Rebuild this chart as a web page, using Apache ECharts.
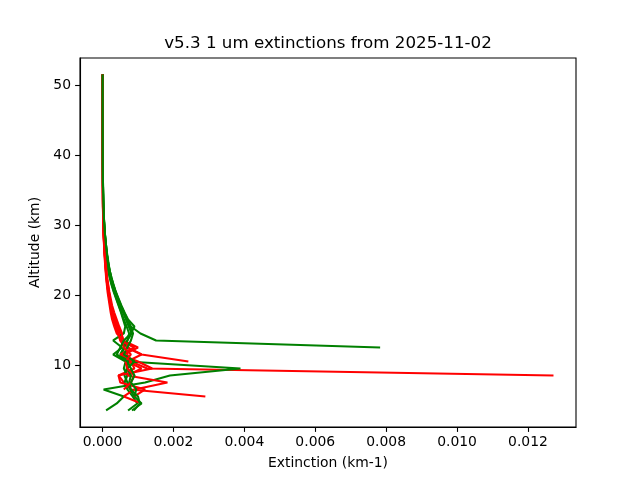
<!DOCTYPE html>
<html>
<head>
<meta charset="utf-8">
<script src="https://cdn.jsdelivr.net/npm/echarts@6/dist/echarts.min.js"></script>
<style>html,body{margin:0;padding:0;background:#fff}#c{width:640px;height:480px}</style>
</head>
<body>
<div id="c"></div>
<script>
const altitudes = [3.5,4.5,5.5,6.5,7.5,8.5,9.5,10.5,11.5,12.5,13.5,14.5,15.5,16.5,17.5,18.5,19.5,20.5,21.5,22.5,23.5,24.5,25.5,26.5,27.5,28.5,29.5,30.5,31.5,32.5,33.5,34.5,35.5,36.5,37.5,38.5,39.5,40.5,41.5,42.5,43.5,44.5,45.5,46.5,47.5,48.5,49.5,50.5,51.5];
const xTicks = [0,0.002,0.004,0.006,0.008,0.010,0.012];
const yTicks = [10,20,30,40,50];

const red1 = [null,null,null,null,null,0.01272,0.00126,0.00080,0.00070,0.00062,0.00050,0.00044,0.00037,0.00031,0.00026,0.00022,0.00019,0.00016,0.00013,0.00011,0.000095,0.00008,0.000066,0.000052,0.000042,0.000032,0.000024,0.000019,0.000015,0.000012,0.00001,0.000009,0.000008,0.000008,0.000007,0.000007,0.000006,0.000006,0.000005,0.000005,0.000005,0.000004,0.000004,0.000004,0.000004,0.000003,0.000003,0.000003,0.000003];
const red2 = [null,null,null,null,null,null,null,0.00242,0.00110,0.00070,0.00060,0.00052,0.00043,0.00036,0.00030,0.00025,0.00021,0.00018,0.00015,0.00012,0.0001,0.000085,0.00007,0.000056,0.000045,0.000035,0.000027,0.00002,0.000016,0.000013,0.000011,0.00001,0.000009,0.000008,0.000008,0.000007,0.000007,0.000006,0.000006,0.000005,0.000005,0.000005,0.000004,0.000004,0.000004,0.000004,0.000003,0.000003,0.000003];
const red3 = [null,null,0.00290,0.00080,0.00060,0.00045,0.00090,0.00080,0.00060,0.00100,0.00058,0.00050,0.00042,0.00035,0.00029,0.00024,0.00020,0.00017,0.00014,0.00012,0.0001,0.000082,0.000068,0.000054,0.000044,0.000034,0.000026,0.00002,0.000016,0.000013,0.000011,0.00001,0.000009,0.000008,0.000008,0.000007,0.000007,0.000006,0.000006,0.000005,0.000005,0.000005,0.000004,0.000004,0.000004,0.000004,0.000003,0.000003,0.000003];
const red4 = [null,0.00110,0.00060,0.00090,0.00183,0.00070,0.00110,0.00070,0.00110,0.00070,0.00060,0.00040,0.00033,0.00027,0.00023,0.00020,0.00017,0.00014,0.00012,0.0001,0.000085,0.00007,0.000058,0.000047,0.000038,0.00003,0.000023,0.000018,0.000014,0.000012,0.00001,0.000009,0.000008,0.000008,0.000007,0.000007,0.000006,0.000006,0.000005,0.000005,0.000005,0.000004,0.000004,0.000004,0.000004,0.000003,0.000003,0.000003,0.000003];
const red5 = [null,null,0.00090,0.00120,0.00050,0.00045,0.00140,0.00100,0.00050,0.00090,0.00050,0.00045,0.00038,0.00032,0.00027,0.00023,0.00019,0.00016,0.00013,0.00011,0.00009,0.000075,0.000062,0.00005,0.00004,0.000031,0.000024,0.000018,0.000015,0.000012,0.00001,0.000009,0.000008,0.000008,0.000007,0.000007,0.000006,0.000006,0.000005,0.000005,0.000005,0.000004,0.000004,0.000004,0.000004,0.000003,0.000003,0.000003,0.000003];
const red6 = [null,null,null,0.00060,0.00080,0.00090,0.00070,0.00065,0.00080,0.00060,0.00055,0.00055,0.00047,0.0004,0.00033,0.00027,0.00023,0.00019,0.00016,0.00013,0.00011,0.00009,0.000074,0.00006,0.000048,0.000037,0.000028,0.000021,0.000017,0.000014,0.000012,0.00001,0.000009,0.000008,0.000008,0.000007,0.000007,0.000006,0.000006,0.000005,0.000005,0.000005,0.000004,0.000004,0.000004,0.000004,0.000003,0.000003,0.000003];

const green1 = [null,null,null,null,null,null,null,null,null,0.00783,0.00151,0.00107,0.00080,0.00070,0.00060,0.00050,0.00042,0.00035,0.00029,0.00023,0.00019,0.00016,0.00013,0.00011,0.00009,0.00007,0.000055,0.000043,0.000033,0.000026,0.00002,0.000016,0.000013,0.000011,0.00001,0.000009,0.000008,0.000008,0.000007,0.000007,0.000006,0.000006,0.000005,0.000005,0.000005,0.000004,0.000004,0.000004,0.000004];
const green2 = [0.00010,0.00040,0.00060,0.00003,0.00120,0.00190,0.00389,0.00070,0.00050,0.00060,0.00070,0.00075,0.00068,0.0006,0.00053,0.00046,0.00039,0.00032,0.00026,0.00021,0.00017,0.00014,0.00012,0.0001,0.00008,0.000063,0.00005,0.00004,0.00003,0.000024,0.000019,0.000015,0.000012,0.00001,0.000009,0.000008,0.000008,0.000007,0.000007,0.000006,0.000006,0.000005,0.000005,0.000005,0.000004,0.000004,0.000004,0.000004,0.000003];
const green3 = [0.00072,0.00098,0.00085,0.00070,0.00062,0.00070,0.00060,0.00065,0.00030,0.00055,0.00030,0.00060,0.00064,0.00058,0.00052,0.00045,0.00038,0.00031,0.00025,0.0002,0.00016,0.00013,0.00011,0.00009,0.000075,0.00006,0.000047,0.000037,0.000028,0.000022,0.000017,0.000014,0.000011,0.00001,0.000009,0.000008,0.000008,0.000007,0.000007,0.000006,0.000006,0.000005,0.000005,0.000005,0.000004,0.000004,0.000004,0.000004,0.000003];
const green4 = [0.00083,0.00110,0.00090,0.00078,0.00070,0.00062,0.00068,0.00072,0.00055,0.00060,0.00070,0.00082,0.00074,0.00066,0.00058,0.0005,0.00043,0.00036,0.0003,0.00024,0.0002,0.00016,0.00013,0.00011,0.00009,0.00007,0.000055,0.000043,0.000033,0.000026,0.00002,0.000016,0.000013,0.000011,0.00001,0.000009,0.000008,0.000008,0.000007,0.000007,0.000006,0.000006,0.000005,0.000005,0.000005,0.000004,0.000004,0.000004,0.000004];
const green5 = [0.00088,0.00105,0.00100,0.00080,0.00075,0.00080,0.00070,0.00090,0.00060,0.00070,0.00080,0.00086,0.00078,0.0007,0.00061,0.00052,0.00044,0.00037,0.0003,0.00025,0.0002,0.00017,0.00014,0.00011,0.00009,0.000072,0.000057,0.000045,0.000035,0.000027,0.000021,0.000017,0.000013,0.000011,0.00001,0.000009,0.000008,0.000008,0.000007,0.000007,0.000006,0.000006,0.000005,0.000005,0.000005,0.000004,0.000004,0.000004,0.000004];
const green6 = [null,null,0.00090,0.00095,0.00080,0.00090,0.00080,0.00070,0.00040,0.00050,0.00060,0.00080,0.00090,0.00072,0.00062,0.00053,0.00045,0.00037,0.00031,0.00025,0.0002,0.00016,0.00013,0.00011,0.00009,0.00007,0.000055,0.000043,0.000034,0.000027,0.000021,0.000017,0.000014,0.000011,0.00001,0.000009,0.000008,0.000008,0.000007,0.000007,0.000006,0.000006,0.000005,0.000005,0.000005,0.000004,0.000004,0.000004,0.000004];

const profiles = [
  {vals: red1, color: '#ff0000'}, {vals: green1, color: '#008000'},
  {vals: red2, color: '#ff0000'}, {vals: green2, color: '#008000'},
  {vals: red3, color: '#ff0000'}, {vals: green3, color: '#008000'},
  {vals: red4, color: '#ff0000'}, {vals: green4, color: '#008000'},
  {vals: red5, color: '#ff0000'}, {vals: green5, color: '#008000'},
  {vals: red6, color: '#ff0000'}, {vals: green6, color: '#008000'}
];

function pairs(vals) {
  const out = [];
  for (let i = 0; i < altitudes.length; i++) {
    if (vals[i] !== null && vals[i] !== undefined) out.push([vals[i], altitudes[i]]);
  }
  return out;
}

const FONT = 'DejaVu Sans';
const chart = echarts.init(document.getElementById('c'), null, {renderer: 'canvas'});
chart.setOption({
  animation: false,
  backgroundColor: '#ffffff',
  title: {
    text: 'v5.3 1 um extinctions from 2025-11-02',
    left: 328, top: 35, textAlign: 'center', padding: 0,
    textStyle: {fontFamily: FONT, fontSize: 16.7, fontWeight: 'normal', color: '#000'}
  },
  grid: {left: 80, right: 64, top: 58, bottom: 53, show: true, borderColor: '#000', borderWidth: 1.1, backgroundColor: 'transparent'},
  xAxis: {
    type: 'value', min: -0.000636, max: 0.013355,
    name: 'Extinction (km-1)', nameLocation: 'middle', nameGap: 29,
    nameTextStyle: {fontFamily: FONT, fontSize: 13.9, color: '#000'},
    axisLine: {show: true, onZero: false, lineStyle: {color: '#000', width: 1.1}},
    axisTick: {show: true, length: 4.9, lineStyle: {color: '#000', width: 1.1}, customValues: xTicks},
    axisLabel: {fontFamily: FONT, fontSize: 13.9, color: '#000', margin: 8, customValues: xTicks,
      formatter: v => v.toFixed(3)},
    splitLine: {show: false}
  },
  yAxis: {
    type: 'value', min: 1.14, max: 53.86,
    name: 'Altitude (km)', nameLocation: 'middle', nameGap: 33, nameRotate: 90,
    nameTextStyle: {fontFamily: FONT, fontSize: 13.9, color: '#000'},
    axisLine: {show: true, onZero: false, lineStyle: {color: '#000', width: 1.1}},
    axisTick: {show: true, length: 4.9, lineStyle: {color: '#000', width: 1.1}, customValues: yTicks},
    axisLabel: {fontFamily: FONT, fontSize: 13.9, color: '#000', margin: 9, customValues: yTicks,
      formatter: v => String(v)},
    splitLine: {show: false}
  },
  series: profiles.map(p => ({
    type: 'line', data: pairs(p.vals), showSymbol: false, symbol: 'none',
    lineStyle: {color: p.color, width: 2.08}, itemStyle: {color: p.color},
    clip: true, silent: true
  }))
});
</script>
</body>
</html>
